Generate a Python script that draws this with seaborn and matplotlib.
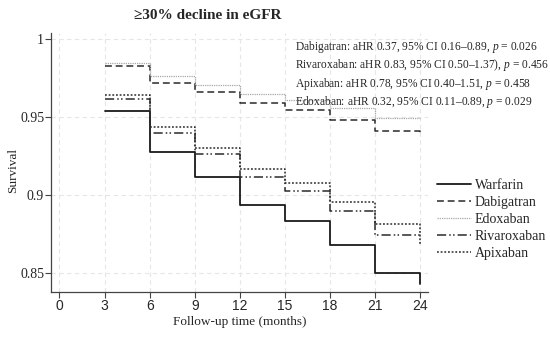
import pandas as pd
import numpy as np
import matplotlib
matplotlib.use("Agg")
import matplotlib.pyplot as plt
import seaborn as sns

# survival step values (step starts at months 3..21, end of follow-up at 24)
months = [3, 6, 9, 12, 15, 18, 21, 24, 24]
warfarin = [0.954, 0.928, 0.912, 0.894, 0.8835, 0.868, 0.850, 0.850, 0.843]
dabigatran = [0.983, 0.972, 0.966, 0.959, 0.9545, 0.948, 0.941, 0.941, 0.938]
edoxaban = [0.985, 0.9767, 0.971, 0.965, 0.9613, 0.956, 0.9496, 0.9496, 0.9496]
rivaroxaban = [0.9615, 0.940, 0.9267, 0.912, 0.903, 0.890, 0.8744, 0.8744, 0.8744]
apixaban = [0.964, 0.9438, 0.9306, 0.9166, 0.908, 0.8957, 0.8814, 0.8814, 0.868]

drugs = ["Warfarin", "Dabigatran", "Edoxaban", "Rivaroxaban", "Apixaban"]
x_ticks = [0, 3, 6, 9, 12, 15, 18, 21, 24]
y_ticks = [0.85, 0.9, 0.95, 1.0]
y_tick_labels = ["0.85", "0.9", "0.95", "1"]

stats_text = [
    "Dabigatran: aHR 0.37, 95% CI 0.16\u20130.89, $\\it{p}$ = 0.026",
    "Rivaroxaban: aHR 0.83, 95% CI 0.50\u20131.37), $\\it{p}$ = 0.456",
    "Apixaban: aHR 0.78, 95% CI 0.40\u20131.51, $\\it{p}$ = 0.458",
    "Edoxaban: aHR 0.32, 95% CI 0.11\u20130.89, $\\it{p}$ = 0.029",
]

series = {
    "Warfarin": warfarin,
    "Dabigatran": dabigatran,
    "Edoxaban": edoxaban,
    "Rivaroxaban": rivaroxaban,
    "Apixaban": apixaban,
}

styles = {
    "Warfarin": dict(color="#1a1a1a", ls="-", lw=1.3),
    "Dabigatran": dict(color="#2a2a2a", ls=(0, (4.5, 2.5)), lw=1.1),
    "Edoxaban": dict(color="#a8a8a8", ls=(0, (1, 0.8)), lw=0.9),
    "Rivaroxaban": dict(color="#2a2a2a", ls=(0, (6, 2, 1, 1.5, 1, 2)), lw=1.1),
    "Apixaban": dict(color="#2a2a2a", ls=(0, (1.2, 1.2)), lw=1.1),
}

sns.set_theme(style="white")
plt.rcParams["font.family"] = ["Liberation Serif", "DejaVu Serif"]
plt.rcParams["mathtext.fontset"] = "custom"
plt.rcParams["mathtext.it"] = "Liberation Serif:italic"
plt.rcParams["mathtext.rm"] = "Liberation Serif"

fig = plt.figure(figsize=(5.5, 3.37), dpi=100)
ax = fig.add_axes([0.093, 0.1335, 0.685, 0.7685])

for name in drugs:
    df = pd.DataFrame({"month": months, "survival": series[name]})
    st = styles[name]
    sns.lineplot(data=df, x="month", y="survival", ax=ax, estimator=None, sort=False,
                 drawstyle="steps-post", color=st["color"], linestyle=st["ls"],
                 linewidth=st["lw"], label=name)

ax.set_xlim(-0.55, 24.5)
ax.set_ylim(0.838, 1.004)
ax.set_xticks(x_ticks)
ax.set_yticks(y_ticks)
ax.set_yticklabels(y_tick_labels)
for lab in ax.get_xticklabels():
    lab.set_fontfamily("Liberation Sans")
ax.tick_params(axis="both", which="major", length=4, width=0.8, color="#444444",
               labelsize=10, pad=1, bottom=True, left=True)
ax.grid(True, color="#e6e6e6", ls=(0, (4, 3)), lw=0.8)
ax.set_axisbelow(True)
for side in ["top", "right"]:
    ax.spines[side].set_visible(False)
for side in ["left", "bottom"]:
    ax.spines[side].set_color("#444444")
    ax.spines[side].set_linewidth(0.9)

ax.set_xlabel("Follow-up time (months)", fontsize=9.5, labelpad=2)
ax.set_ylabel("Survival", fontsize=9.5)
ax.yaxis.set_label_coords(-0.085, 0.471)

fig.text(0.378, 0.955, "\u226530% decline in eGFR", ha="center", va="center",
         fontsize=11, fontweight="bold")

for i, line in enumerate(stats_text):
    fig.text(0.536, 0.860 - i * 0.054, line, ha="left", va="center", fontsize=8.3)

leg = ax.legend(loc="upper left", bbox_to_anchor=(1.01, 0.459), frameon=False,
                fontsize=10, handlelength=2.4, handletextpad=0.3, labelspacing=0.3,
                borderaxespad=0)

fig.savefig("out.png", dpi=100)
